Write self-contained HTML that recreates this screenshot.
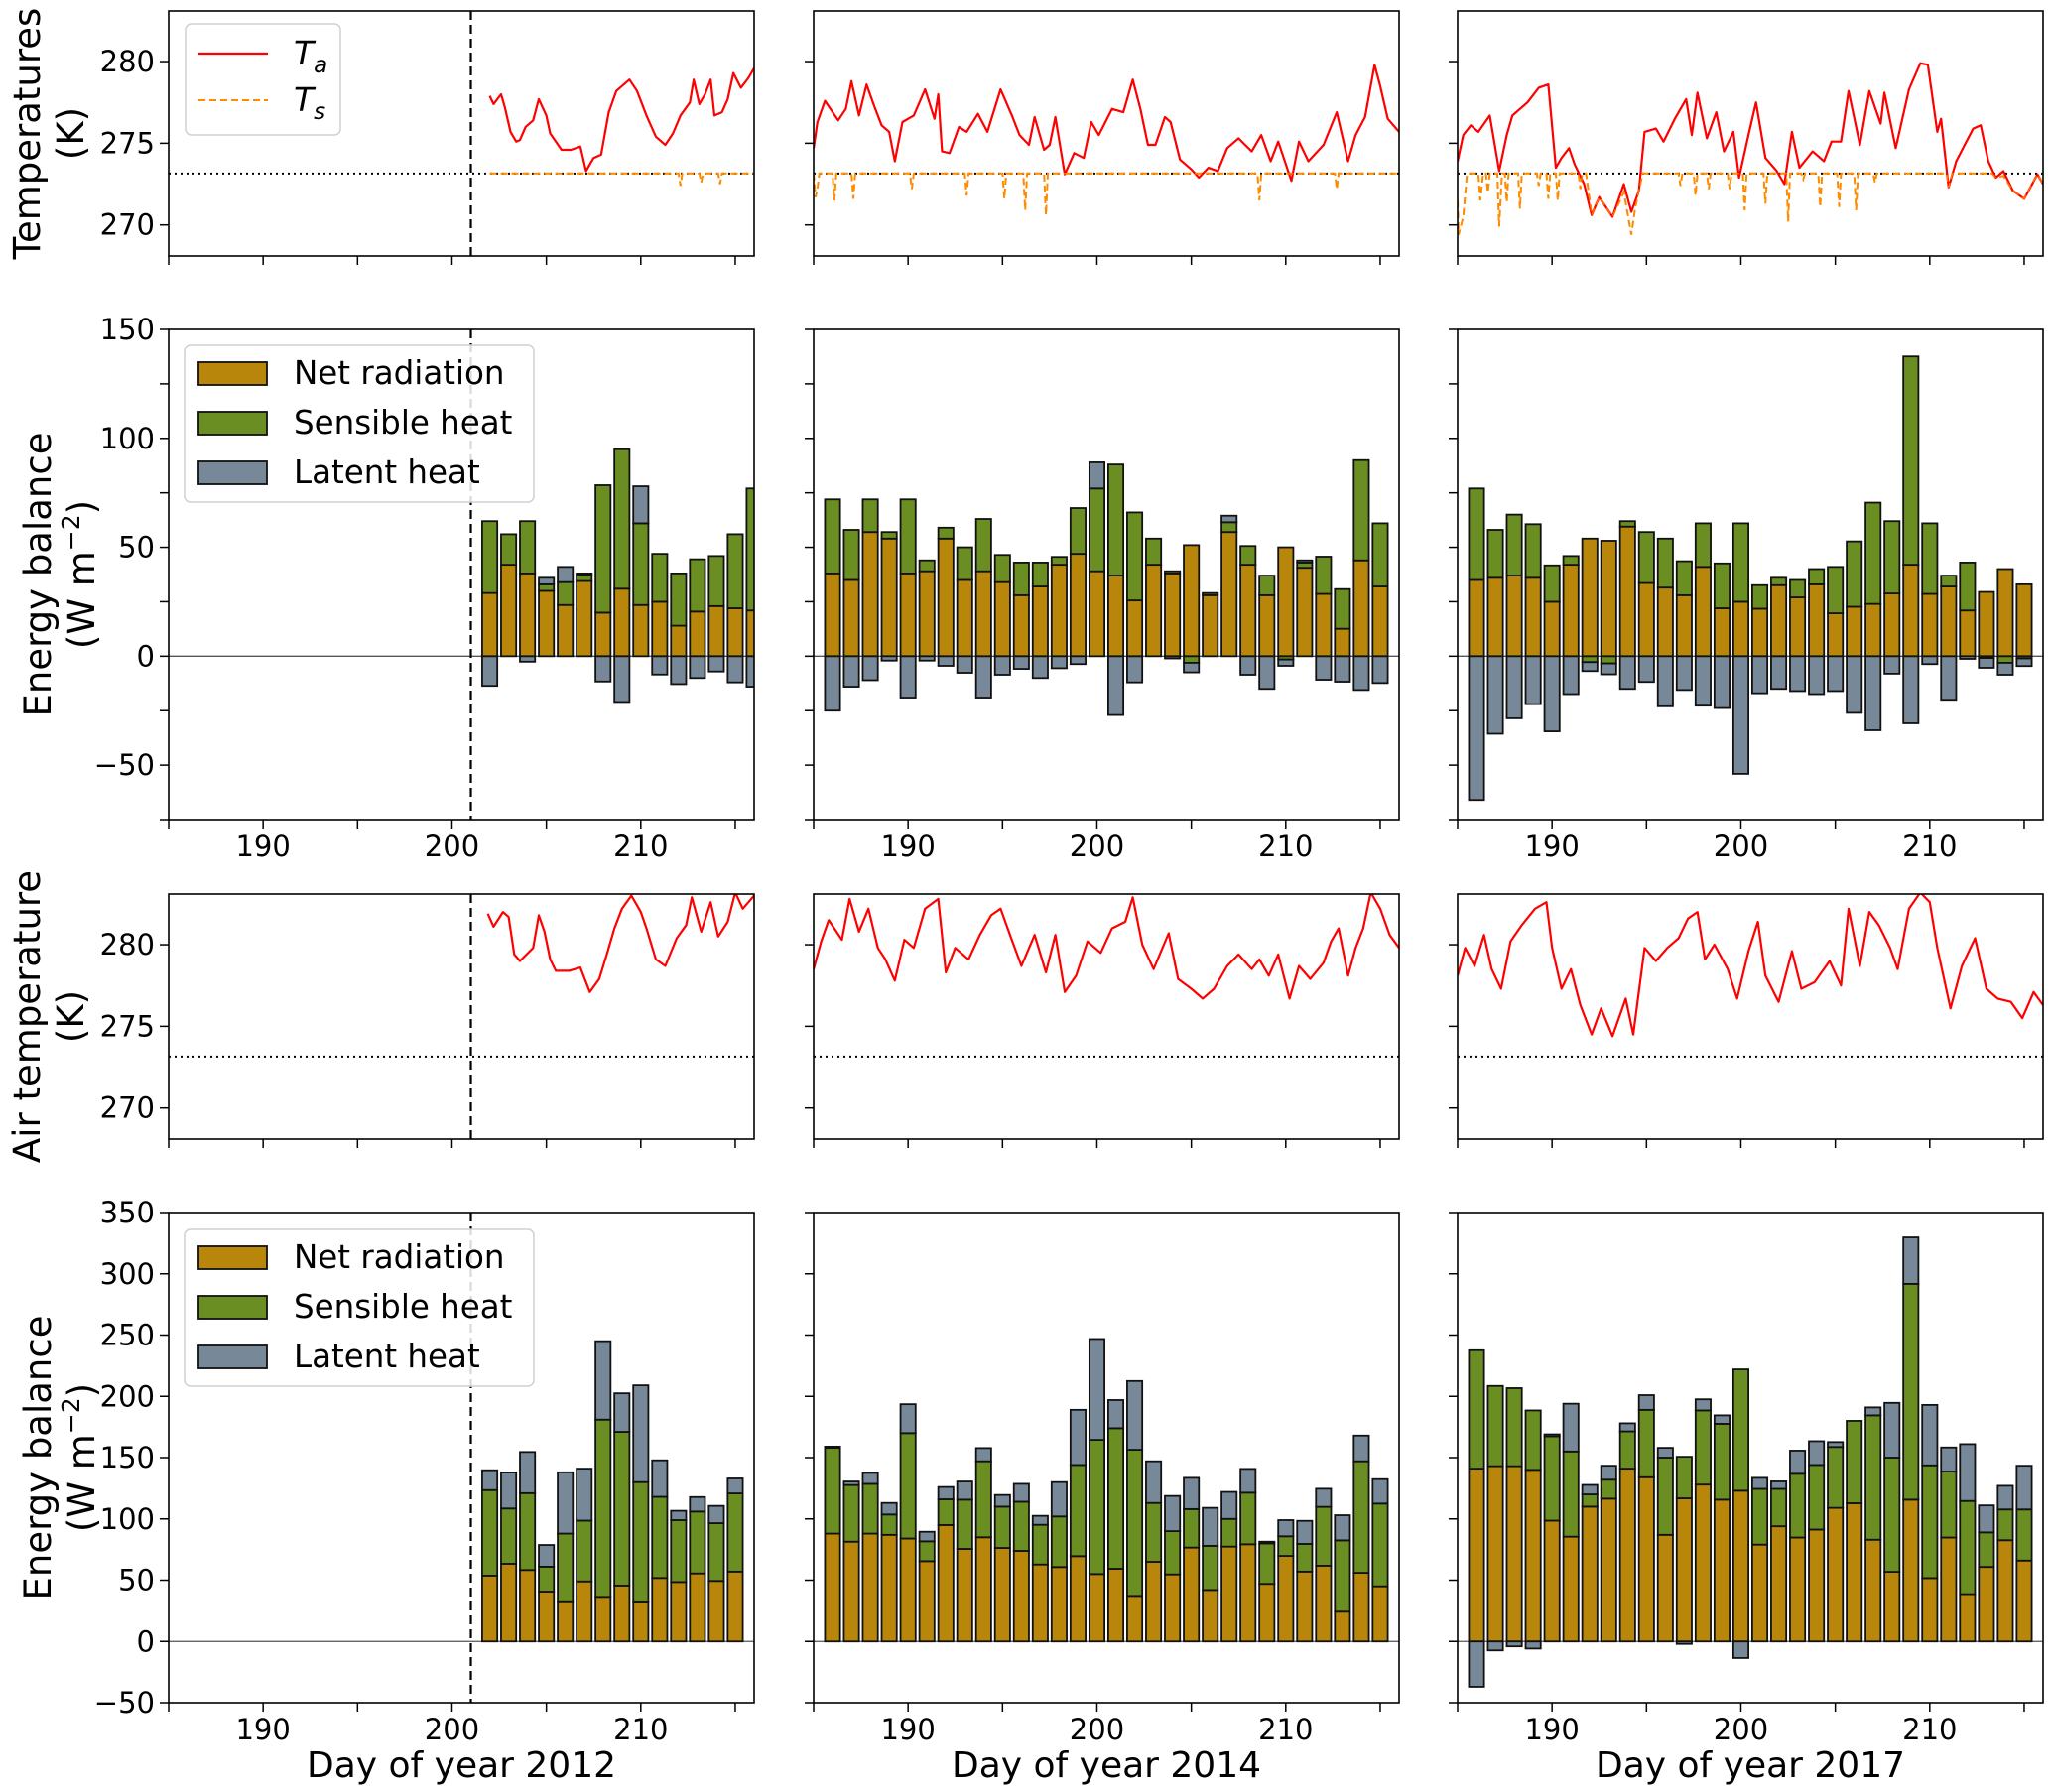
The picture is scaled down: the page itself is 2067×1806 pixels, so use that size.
<!DOCTYPE html>
<html><head><meta charset="utf-8"><style>
html,body{margin:0;padding:0;background:#fff}
svg{display:block;font-family:"DejaVu Sans","Liberation Sans",sans-serif}
</style></head><body>
<svg id="fig" width="2067" height="1806" viewBox="0 0 2067 1806" xmlns="http://www.w3.org/2000/svg"></svg>
<script>
// ---------- data ----------
const xTicks = [185,190,195,200,205,210,215];
const xTickLabels = [190,200,210];
const years = [2012,2014,2017];
const tempTicks = [270,275,280];
const eb1Ticks = [-75,-50,-25,0,25,50,75,100,125,150];
const eb1Labels = [-50,0,50,100,150];
const eb2Ticks = [-50,0,50,100,150,200,250,300,350];

// row 2 (energy balance, upper)
const eb1Start = [202,186,186];
const eb1Net2012 = [29,42,38,30,23.5,34.5,20,31,23.5,25,14,20.5,23,22,21];
const eb1Sens2012 = [33,14,24,3,10.5,3,58.5,64,37.5,22,24,24,23,34,56];
const eb1Lat2012 = [-13.6,0,-2.5,3,7,0.5,-11.6,-21,17,-8.4,-12.8,-10,-7,-12,-14];
const eb1Net2014 = [38,35,57,54,38,39,54,35,39,34,28,32,42,47,39,37,25.6,42,38,51,28,57,42,28,50,40.6,28.6,12.6,44,32];
const eb1Sens2014 = [34,23,15,3,34,5,5,15,24,12.5,15,11,3.6,21,38,51,40.4,12,1,-3,1,4.5,8.6,9,-1.5,2.4,17.1,18.2,46,29];
const eb1Lat2014 = [-25,-14,-11,-2,-19,-2,-4.4,-7.6,-19,-8.5,-5.8,-10,-5.5,-3.6,12,-27,-12,0,-1,-4.4,0,3,-8.5,-15,-2.9,1,-10.8,-11.7,-15.5,-12.3];
const eb1Net2017 = [35,36,37,36,25,42,54,53,59.5,33.6,31.5,28,41,22,25,21.8,32.6,27,33,19.7,22.7,24,28.8,42,28.6,32,21,29.5,40,33];
const eb1Sens2017 = [42,22,28,24.6,16.7,4,-2.7,-3.3,2.5,23.4,22.5,15.6,20,20.6,36,10.8,3.4,8,7,21.3,30,46.5,33.2,95.6,32.4,5,22,-0.8,-3,-1];
const eb1Lat2017 = [-66,-35.6,-28.5,-22,-34.5,-17.4,-4.1,-5,-15,-11.8,-23,-15.5,-22.7,-23.8,-54,-17,-15,-16,-17.4,-16,-26,-34,-8,-30.8,-3.6,-20,-1.2,-4.5,-5.5,-3.5];

// row 4 (energy balance, lower)
const eb2Start = [202,186,186];
const eb2Net2012 = [53.7,63.4,58.3,40.7,32,49,36.4,45.6,31.8,51.8,48.5,55.5,49.4,57];
const eb2Sens2012 = [69.8,45.1,62.7,20.3,56,49.6,144.6,125.4,98.2,66.2,50.5,50.5,47.1,63.8];
const eb2Lat2012 = [16.2,29.3,33.6,17.7,50,42.4,64,31.5,79,29.8,7.6,11.8,14.1,12.2];
const eb2Net2014 = [88,81.4,88,87,84,65.5,95,75.5,85,76.3,73.9,62.8,60.7,69.6,55,59.3,37.2,65,54.7,76.6,42,77.4,79.3,47,69.8,57,61.8,24.3,56,45];
const eb2Sens2014 = [70,46.2,40.6,16.6,86,16.2,21,40.2,62,33.7,40.1,32.4,41.3,74.4,109.5,114.7,119.2,48,35.3,31.4,36,22.6,42.1,33,16,22.6,48,58.2,91,67.5];
const eb2Lat2014 = [1,2.9,8.9,9.4,23.6,7.8,10,14.8,10.8,9.5,14.6,7.3,28,45,82.3,23,56.1,34,28.7,25.5,31,22,19.4,1.4,13.2,18.8,14.8,20.5,21,19.9];
const eb2Net2017 = [141,143,143,140,98.6,85.5,110,116.5,141,134,87,116.8,128,115.7,123,79,94,84.8,91.3,109,112.8,83,56.8,115.7,51.7,84.8,38.6,60.8,82.6,66];
const eb2Sens2017 = [96.6,65.5,63.7,48.5,68.8,69.5,10,15.5,30.4,55,63,33.9,60.5,61.9,99,45.5,30.5,52,52.7,49.7,67.2,101.5,93.2,176.1,92,53.8,76,28.2,25.1,41.7];
const eb2Lat2017 = [-37,-7.3,-4,-5.8,1.6,39,7.7,11.4,6.6,12,8,-2,9.1,6.9,-13.5,9,6.1,18.9,19.4,4,0,6.5,44.7,37.9,49.3,19.7,46.4,22,19.3,35.7];

// row 1 temperatures
const ta1_2012 = [[202,277.9],[202.2,277.4],[202.6,278.0],[202.8,277.2],[203.1,275.7],[203.4,275.1],[203.6,275.2],[203.9,276.0],[204.3,276.4],[204.6,277.7],[205,276.7],[205.2,275.6],[205.8,274.6],[206.3,274.6],[206.8,274.8],[207.1,273.3],[207.5,274.1],[207.9,274.3],[208.3,276.9],[208.7,278.2],[209.4,278.9],[209.8,278.2],[210.3,276.7],[210.8,275.4],[211.3,274.9],[211.7,275.6],[212.1,276.7],[212.6,277.5],[212.8,278.9],[213.1,277.4],[213.4,278.0],[213.7,278.9],[213.9,276.7],[214.3,276.9],[214.6,277.7],[214.9,279.3],[215.3,278.4],[215.7,279.0],[216,279.6]];
const ts1_2012 = [[202,273.15],[212.0,273.15],[212.1,272.4],[212.2,273.15],[213.1,273.15],[213.2,272.6],[213.3,273.15],[214.1,273.15],[214.2,272.5],[214.3,273.15],[216,273.15]];
const ta1_2014 = [[185,274.7],[185.2,276.3],[185.6,277.6],[186.3,276.4],[186.7,277.1],[187,278.8],[187.4,276.7],[187.8,278.6],[188.2,277.3],[188.6,276.1],[189,275.7],[189.3,273.9],[189.7,276.3],[190.3,276.7],[190.9,278.3],[191.4,276.5],[191.6,278.0],[191.8,274.5],[192.2,274.4],[192.7,276.0],[193.1,275.7],[193.7,276.8],[194.2,275.7],[194.9,278.3],[195.5,276.7],[195.9,275.5],[196.4,274.9],[196.7,276.6],[197.2,274.6],[197.5,274.9],[197.8,276.6],[198.3,273.1],[198.8,274.4],[199.3,274.1],[199.7,276.3],[200.1,275.5],[200.8,277.1],[201.4,276.9],[201.9,278.9],[202.3,277.1],[202.7,274.9],[203.1,274.9],[203.6,276.6],[203.9,276.3],[204.4,274.0],[205,273.4],[205.4,272.9],[205.9,273.5],[206.4,273.3],[206.9,274.7],[207.5,275.3],[208.2,274.5],[208.7,275.5],[209.2,273.9],[209.6,275.1],[210.3,272.7],[210.7,275.1],[211.2,273.9],[212,274.9],[212.7,276.9],[213.3,273.9],[213.7,275.5],[214.2,276.6],[214.7,279.8],[215,278.5],[215.4,276.5],[216,275.7]];
const ts1_2014 = [[185,273.15],[185.1,271.7],[185.2,272.2],[185.3,273.15],[186.0,273.15],[186.1,271.5],[186.2,273.15],[187.0,273.15],[187.1,271.6],[187.2,273.15],[190.1,273.15],[190.2,272.2],[190.3,273.15],[193.0,273.15],[193.1,271.8],[193.2,273.15],[195.0,273.15],[195.1,271.6],[195.2,273.15],[196.1,273.15],[196.2,270.9],[196.3,273.15],[197.2,273.15],[197.3,270.6],[197.4,273.15],[208.5,273.15],[208.6,271.5],[208.7,273.15],[212.6,273.15],[212.7,272.2],[212.8,273.15],[216,273.15]];
const ta1_2017 = [[185,273.9],[185.3,275.5],[185.7,276.1],[186.1,275.7],[186.7,276.7],[187.2,273.3],[187.6,275.5],[187.9,276.7],[188.7,277.5],[189.3,278.4],[189.8,278.6],[190.2,273.5],[190.5,274.1],[190.9,274.7],[191.2,273.7],[191.7,272.5],[192.1,270.6],[192.5,271.7],[193.2,270.5],[193.8,272.5],[194.2,270.8],[194.6,272.1],[194.9,275.7],[195.5,275.9],[195.9,275.1],[196.5,276.5],[197.1,277.7],[197.4,275.5],[197.7,278.1],[198.2,275.3],[198.7,276.9],[199.1,274.5],[199.6,275.7],[199.9,272.9],[200.4,275.5],[200.8,277.5],[201.3,274.1],[201.9,273.3],[202.3,272.5],[202.7,275.7],[203.1,273.5],[203.8,274.5],[204.4,273.9],[204.8,275.1],[205.3,275.1],[205.7,278.2],[206.3,274.9],[206.8,278.2],[207.4,276.2],[207.6,278.1],[208.2,274.7],[208.9,278.3],[209.5,279.9],[209.9,279.8],[210.4,275.7],[210.6,276.5],[211,272.3],[211.4,273.9],[211.8,274.8],[212.3,275.9],[212.7,276.1],[213.1,273.9],[213.5,272.9],[213.9,273.3],[214.4,272.1],[215,271.6],[215.7,273.1],[216,272.5]];
const ts1_2017 = [[185,271.5],[185.05,269.4],[185.3,270.5],[185.5,273.15],[186.1,273.15],[186.2,271.5],[186.35,273.15],[186.5,273.15],[186.6,272],[186.7,273.15],[187.1,273.15],[187.2,269.9],[187.35,273.15],[187.5,273.15],[187.6,271.4],[187.7,273.15],[188.2,273.15],[188.3,271],[188.4,273.15],[189.2,273.15],[189.3,272.4],[189.4,273.15],[189.7,273.15],[189.8,271.6],[189.9,273.15],[190.2,273.15],[190.3,271.5],[190.4,273.15],[191.4,273.15],[191.5,272.2],[191.6,273.15],[191.8,273.15],[192.0,271.5],[192.1,270.6],[192.5,271.7],[193.2,270.5],[193.8,272],[194.2,269.4],[194.4,271],[194.6,272.1],[194.8,273.15],[196.7,273.15],[196.8,272.4],[196.9,273.15],[197.5,273.15],[197.6,271.8],[197.7,273.15],[198.2,273.15],[198.3,272.2],[198.4,273.15],[199.3,273.15],[199.4,272.2],[199.5,273.15],[200.1,273.15],[200.2,270.9],[200.3,273.15],[201.2,273.15],[201.3,271.3],[201.4,273.15],[202.4,273.15],[202.5,270.2],[202.6,273.15],[203.2,273.15],[203.3,272.8],[203.4,273.15],[204.1,273.15],[204.2,271.1],[204.3,273.15],[205.1,273.15],[205.2,271.1],[205.3,273.15],[206.0,273.15],[206.1,270.9],[206.2,273.15],[207.0,273.15],[207.1,272.6],[207.2,273.15],[210.9,273.15],[211.0,272.3],[211.2,273.15],[213.3,273.15],[213.5,272.9],[213.9,273.0],[214.4,272.1],[215.0,271.6],[215.4,272.5],[215.7,273.1],[216,272.5]];

// row 3 air temperature
const ta2_2012 = [[201.9,281.9],[202.2,281.1],[202.7,282.0],[203.0,281.7],[203.3,279.4],[203.6,279.0],[204.3,279.8],[204.6,281.8],[204.9,280.8],[205.2,279.1],[205.5,278.4],[206.2,278.4],[206.8,278.6],[207.3,277.1],[207.8,277.9],[208.2,279.4],[208.6,281.0],[209,282.2],[209.5,283.0],[210,282.0],[210.3,281.0],[210.8,279.1],[211.3,278.7],[211.9,280.4],[212.4,281.2],[212.7,282.9],[213.2,280.8],[213.7,282.6],[214.1,280.5],[214.6,281.4],[215,283.2],[215.4,282.2],[216,283.0]];
const ta2_2014 = [[185,278.5],[185.4,280.2],[185.8,281.5],[186.5,280.3],[186.9,282.8],[187.4,280.8],[187.9,282.2],[188.4,279.8],[188.8,279.1],[189.3,277.8],[189.8,280.3],[190.3,279.8],[190.9,282.2],[191.6,282.8],[192,278.3],[192.5,279.8],[193.2,279.1],[193.8,280.6],[194.4,281.8],[194.9,282.2],[195.4,280.6],[196,278.7],[196.7,280.6],[197.3,278.3],[197.8,280.6],[198.3,277.1],[198.9,278.1],[199.5,280.2],[200.2,279.5],[200.8,281.0],[201.5,281.4],[201.9,282.9],[202.4,280.0],[203,278.5],[203.8,280.7],[204.3,277.9],[205,277.3],[205.6,276.7],[206.2,277.3],[206.9,278.7],[207.5,279.4],[208.2,278.5],[208.6,279.1],[209.1,278.1],[209.6,279.4],[210.2,276.7],[210.7,278.7],[211.3,277.9],[212,278.9],[212.4,280.2],[212.8,281.0],[213.3,278.1],[213.7,279.8],[214.1,281.0],[214.5,283.2],[215,282.2],[215.5,280.6],[216,279.8]];
const ta2_2017 = [[185,278.1],[185.4,279.8],[185.9,278.7],[186.4,280.6],[186.8,278.5],[187.3,277.3],[187.8,280.2],[188.4,281.2],[189.1,282.2],[189.7,282.6],[190,279.8],[190.5,277.3],[191,278.5],[191.5,276.3],[192.1,274.5],[192.6,276.1],[193.2,274.4],[193.9,276.7],[194.3,274.5],[194.9,279.8],[195.5,279.0],[196.1,279.8],[196.7,280.4],[197.2,281.6],[197.7,282.0],[198.1,279.1],[198.6,280.0],[199.3,278.5],[199.8,276.7],[200.4,279.6],[200.9,281.4],[201.3,278.1],[202,276.5],[202.7,279.6],[203.2,277.3],[203.9,277.7],[204.7,279.0],[205.3,277.5],[205.7,282.2],[206.3,278.7],[206.8,282.0],[207.3,281.2],[207.9,279.8],[208.3,278.5],[208.9,282.2],[209.5,283.2],[210,282.6],[210.4,279.8],[211.1,276.1],[211.7,278.7],[212.4,280.4],[213,277.3],[213.6,276.7],[214.3,276.5],[214.9,275.5],[215.5,277.1],[216,276.3]];

// ---------- layout ----------
const NS = 'http://www.w3.org/2000/svg';
const svg = document.getElementById('fig');
const cols = [[170,760],[820,1410],[1469,2059]];
const rows = [[11,258],[332,826],[901,1148],[1222,1716]];
const XMIN = 185, XMAX = 216;
const C_NET = '#b8860b', C_SENS = '#6b8e23', C_LAT = '#778899';

function el(tag, attrs, parent){
  const e = document.createElementNS(NS, tag);
  for (const k in attrs) e.setAttribute(k, attrs[k]);
  (parent||svg).appendChild(e);
  return e;
}
function xs(c, d){ const [a,b]=cols[c]; return a + (d-XMIN)/(XMAX-XMIN)*(b-a); }
function ys(r, v, lo, hi){ const [t,b]=rows[r]; return b - (v-lo)/(hi-lo)*(b-t); }

const ylims = [[268.1,283.1],[-75,150],[268.1,283.1],[-50,350]];

for (let r=0;r<4;r++){
  for (let c=0;c<3;c++){
    const [x0,x1]=cols[c], [y0,y1]=rows[r], [lo,hi]=ylims[r];
    const g = el('g',{});
    
    
    const clipId = 'clip'+r+c;
    const cp = el('clipPath',{id:clipId}, g);
    el('rect',{x:x0,y:y0,width:x1-x0,height:y1-y0}, cp);
    const plot = el('g',{'clip-path':'url(#'+clipId+')'}, g);

    const Y = v => ys(r,v,lo,hi);
    const X = d => xs(c,d);

    if (r===0 || r===2){
      const ref = el('line',{x1:x0,x2:x1,y1:Y(273.15),y2:Y(273.15),stroke:'#000','stroke-width':2,'stroke-dasharray':'2,4'}, plot);
      
      
      const yr = years[c];
      const taSeries = r===0 ? {2012:ta1_2012,2014:ta1_2014,2017:ta1_2017}[yr] : {2012:ta2_2012,2014:ta2_2014,2017:ta2_2017}[yr];
      if (r===0){
        const tsSeries = {2012:ts1_2012,2014:ts1_2014,2017:ts1_2017}[yr];
        const ts = el('polyline',{points:tsSeries.map(p=>X(p[0]).toFixed(1)+','+Y(p[1]).toFixed(1)).join(' '),fill:'none',stroke:'#ff8c00','stroke-width':2,'stroke-dasharray':'7,4'}, plot);
        
        
      }
      const ta = el('polyline',{points:taSeries.map(p=>X(p[0]).toFixed(1)+','+Y(p[1]).toFixed(1)).join(' '),fill:'none',stroke:'#ff0000','stroke-width':2.2,'stroke-linejoin':'round'}, plot);
      
      
      if (r===0){
        const ts2 = el('polyline',{points:({2012:ts1_2012,2014:ts1_2014,2017:ts1_2017}[yr]).map(p=>X(p[0]).toFixed(1)+','+Y(p[1]).toFixed(1)).join(' '),fill:'none',stroke:'#ff8c00','stroke-width':1.6,'stroke-dasharray':'7,4','opacity':0.8}, plot);
        
        
      }
    } else {
      const zl = el('line',{x1:x0,x2:x1,y1:Y(0),y2:Y(0),stroke:'#555','stroke-width':1.3}, plot);
      
      
      const yr = years[c];
      const up = r===1;
      const net = (up?{2012:eb1Net2012,2014:eb1Net2014,2017:eb1Net2017}:{2012:eb2Net2012,2014:eb2Net2014,2017:eb2Net2017})[yr];
      const sens = (up?{2012:eb1Sens2012,2014:eb1Sens2014,2017:eb1Sens2017}:{2012:eb2Sens2012,2014:eb2Sens2014,2017:eb2Sens2017})[yr];
      const lat = (up?{2012:eb1Lat2012,2014:eb1Lat2014,2017:eb1Lat2017}:{2012:eb2Lat2012,2014:eb2Lat2014,2017:eb2Lat2017})[yr];
      const start = (up?eb1Start:eb2Start)[c];
      for (let i=0;i<net.length;i++){
        const d = start+i;
        const bx = X(d-0.4), bw = X(d+0.4)-X(d-0.4);
        const seg = (a,b,col,name)=>{
          if (Math.abs(b-a)<0.01) return;
          const rc = el('rect',{x:bx,y:Math.min(Y(a),Y(b)),width:bw,height:Math.abs(Y(a)-Y(b)),fill:col,stroke:'#111','stroke-width':1.8}, plot);
          
          
        };
        seg(0, net[i], C_NET, 'net-radiation');
        let top = net[i], bot = 0;
        if (sens[i]>=0){ seg(top, top+sens[i], C_SENS, 'sensible-heat'); top += sens[i]; }
        else { seg(0, sens[i], C_SENS, 'sensible-heat'); bot = sens[i]; }
        if (lat[i]>=0) seg(top, top+lat[i], C_LAT, 'latent-heat');
        else seg(bot, bot+lat[i], C_LAT, 'latent-heat');
      }
    }
    if (c===0){
      const vl = el('line',{x1:X(201),x2:X(201),y1:y0,y2:y1,stroke:'#000','stroke-width':2.2,'stroke-dasharray':'9,5'}, plot);
      
      
    }
    const fr = el('rect',{x:x0,y:y0,width:x1-x0,height:y1-y0,fill:'none',stroke:'#000','stroke-width':1.6}, g);
    
    
    for (const t of xTicks){
      const tx = el('line',{x1:X(t),x2:X(t),y1:y1,y2:y1+9,stroke:'#000','stroke-width':1.5}, g);
      
      
    }
    if (r===1 || r===3){
      for (const t of xTickLabels){
        const tl = el('text',{x:X(t),y:y1+37,'text-anchor':'middle','font-size':29,fill:'#000'}, g);
        tl.textContent = t;
        
        
      }
    }
    const ticks = r===1 ? eb1Ticks : r===3 ? eb2Ticks : tempTicks;
    const labs = r===1 ? eb1Labels : ticks;
    for (const t of ticks){
      const ty = el('line',{x1:x0-9,x2:x0,y1:Y(t),y2:Y(t),stroke:'#000','stroke-width':1.5}, g);
      
      
      if (c===0 && labs.includes(t)){
        const tl = el('text',{x:x0-14,y:Y(t)+10,'text-anchor':'end','font-size':29,fill:'#000'}, g);
        tl.textContent = t<0 ? '\u2212'+(-t) : t;
        
        
      }
    }
  }
}

function txt(str, x, y, size, rot, name, anchor){
  const t = el('text',{x:x,y:y,'font-size':size,'text-anchor':anchor||'middle',fill:'#000'});
  t.textContent = str;
  
  
  return t;
}
const yl1 = el('text',{'font-size':37,'text-anchor':'middle',transform:'translate(40,'+((rows[0][0]+rows[0][1])/2)+') rotate(-90)'});


el('tspan',{x:0,y:0},yl1).textContent='Temperatures';
el('tspan',{x:0,y:44},yl1).textContent='(K)';

function ebLabel(r){
  const t = el('text',{'font-size':37,'text-anchor':'middle',transform:'translate(51,'+((rows[r][0]+rows[r][1])/2)+') rotate(-90)'});
  
  
  el('tspan',{x:0,y:0},t).textContent='Energy balance';
  const s = el('tspan',{x:0,y:44},t);
  s.textContent='(W m';
  const sup = el('tspan',{dy:-15,'font-size':25},t); sup.textContent='\u22122';
  const cl = el('tspan',{dy:15},t); cl.textContent=')';
}
ebLabel(1); ebLabel(3);
const yl3 = el('text',{'font-size':37,'text-anchor':'middle',transform:'translate(40,'+((rows[2][0]+rows[2][1])/2)+') rotate(-90)'});


el('tspan',{x:0,y:0},yl3).textContent='Air temperature';
el('tspan',{x:0,y:44},yl3).textContent='(K)';

for (let c=0;c<3;c++){
  txt('Day of year '+years[c], (cols[c][0]+cols[c][1])/2, 1791, 36, false, 'x-axis-title-'+years[c]);
}

function legendBox(x,y,w,h,name){
  const b = el('rect',{x:x,y:y,width:w,height:h,rx:6,fill:'#fff','fill-opacity':0.85,stroke:'#d0d0d0','stroke-width':1.5});
  
  
}
legendBox(187,24,156,112,'temperature-legend');
const lg1 = el('line',{x1:200,x2:270,y1:54,y2:54,stroke:'#ff0000','stroke-width':2.2});


const lg2 = el('line',{x1:200,x2:270,y1:101,y2:101,stroke:'#ff8c00','stroke-width':2,'stroke-dasharray':'7,4'});


function subLabel(x,y,base,sub,name){
  const t = el('text',{x:x,y:y,'font-size':33,'font-style':'italic'});
  
  
  el('tspan',{},t).textContent=base;
  const s = el('tspan',{dy:8,'font-size':23},t); s.textContent=sub;
}
subLabel(296,65,'T','a','legend-ta-label');
subLabel(296,112,'T','s','legend-ts-label');

function ebLegend(y0,name){
  legendBox(186,y0,352,158,name);
  const items = [['Net radiation',C_NET],['Sensible heat',C_SENS],['Latent heat',C_LAT]];
  items.forEach((it,i)=>{
    const cy = y0+28+i*50;
    const p = el('rect',{x:200,y:cy-11,width:69,height:23,fill:it[1],stroke:'#111','stroke-width':1.8});
    
    
    const t = el('text',{x:296,y:cy+11,'font-size':32.5});
    t.textContent = it[0];
    
    
  });
}
ebLegend(348,'energy-legend-upper');
ebLegend(1239,'energy-legend-lower');
</script>
</body></html>
